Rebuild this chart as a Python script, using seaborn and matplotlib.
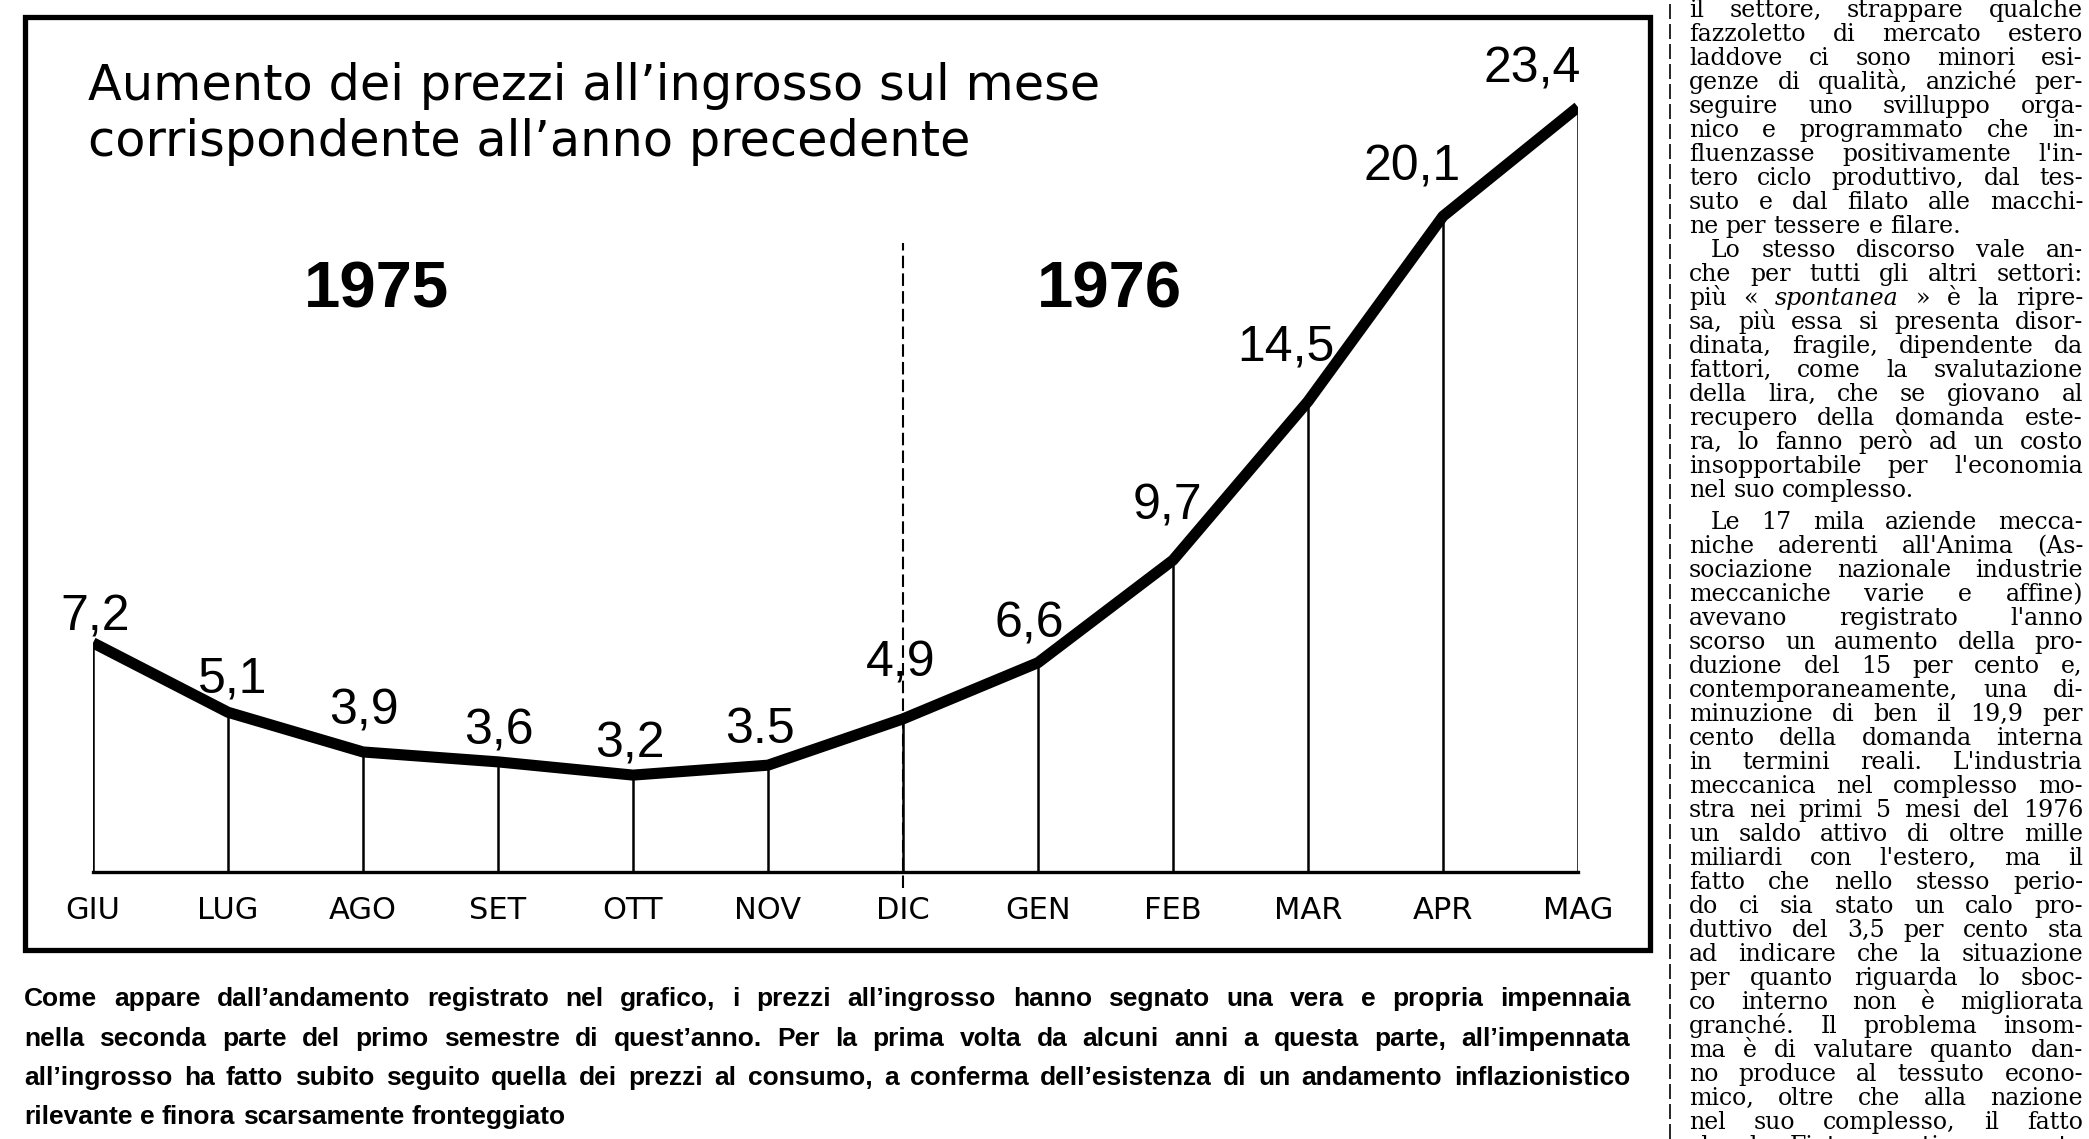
import matplotlib
matplotlib.use("Agg")
import matplotlib.pyplot as plt
import seaborn as sns
import pandas as pd
from matplotlib.patches import Rectangle
from matplotlib.lines import Line2D

# ---------------- data ----------------
months = ["GIU", "LUG", "AGO", "SET", "OTT", "NOV", "DIC", "GEN", "FEB", "MAR", "APR", "MAG"]
values = [7.2, 5.1, 3.9, 3.6, 3.2, 3.5, 4.9, 6.6, 9.7, 14.5, 20.1, 23.4]
value_labels = ["7,2", "5,1", "3,9", "3,6", "3,2", "3.5", "4,9", "6,6", "9,7", "14,5", "20,1", "23,4"]
years = ["1975", "1976"]
year_split = "DIC"

title_lines = ["Aumento dei prezzi all’ingrosso sul mese",
               "corrispondente all’anno precedente"]

caption_lines = [
    "Come appare dall’andamento registrato nel grafico, i prezzi all’ingrosso hanno segnato una vera e propria impennaia",
    "nella seconda parte del primo semestre di quest’anno. Per la prima volta da alcuni anni a questa parte, all’impennata",
    "all’ingrosso ha fatto subito seguito quella dei prezzi al consumo, a conferma dell’esistenza di un andamento inflazionistico",
    "rilevante e finora scarsamente fronteggiato",
]

column_lines = [
    "il settore, strappare qualche",
    "fazzoletto di mercato estero",
    "laddove ci sono minori esi-",
    "genze di qualità, anziché per-",
    "seguire uno svilluppo orga-",
    "nico e programmato che in-",
    "fluenzasse positivamente l'in-",
    "tero ciclo produttivo, dal tes-",
    "suto e dal filato alle macchi-",
    "ne per tessere e filare.",
    "Lo stesso discorso vale an-",
    "che per tutti gli altri settori:",
    "più « _spontanea_ » è la ripre-",
    "sa, più essa si presenta disor-",
    "dinata, fragile, dipendente da",
    "fattori, come la svalutazione",
    "della lira, che se giovano al",
    "recupero della domanda este-",
    "ra, lo fanno però ad un costo",
    "insopportabile per l'economia",
    "nel suo complesso.",
    "Le 17 mila aziende mecca-",
    "niche aderenti all'Anima (As-",
    "sociazione nazionale industrie",
    "meccaniche varie e affine)",
    "avevano registrato l'anno",
    "scorso un aumento della pro-",
    "duzione del 15 per cento e,",
    "contemporaneamente, una di-",
    "minuzione di ben il 19,9 per",
    "cento della domanda interna",
    "in termini reali. L'industria",
    "meccanica nel complesso mo-",
    "stra nei primi 5 mesi del 1976",
    "un saldo attivo di oltre mille",
    "miliardi con l'estero, ma il",
    "fatto che nello stesso perio-",
    "do ci sia stato un calo pro-",
    "duttivo del 3,5 per cento sta",
    "ad indicare che la situazione",
    "per quanto riguarda lo sboc-",
    "co interno non è migliorata",
    "granché. Il problema insom-",
    "ma è di valutare quanto dan-",
    "no produce al tessuto econo-",
    "mico, oltre che alla nazione",
    "nel suo complesso, il fatto",
    "che la Fiat esporti una certa",
]
paragraph_starts = [10, 21]
paragraph_ends = [9, 20]

# ---------------- figure ----------------
W, H, DPI = 2089, 1139, 100
sns.set_theme(style="white")
plt.rcParams["font.family"] = ["DejaVu Sans"]
plt.rcParams["text.color"] = "black"
NARROW = ["Liberation Sans Narrow", "Liberation Sans", "DejaVu Sans"]

fig = plt.figure(figsize=(W / DPI, H / DPI), dpi=DPI, facecolor="white")


def fx(px):
    return px / W


def fy(py):
    return 1 - py / H


# plot area (pixel geometry of the reference)
X0, X1 = 93, 1578
YB, YT = 872, 100
PPU = 33.07
YMIN = 0.27

ax = fig.add_axes([fx(X0), fy(YB), (X1 - X0) / W, (YB - YT) / H])
ax.set_facecolor("none")
ax.set_xlim(0, len(months) - 1)
ax.set_ylim(YMIN, YMIN + (YB - YT) / PPU)

df = pd.DataFrame({"idx": range(len(months)), "month": months, "value": values})

ax.vlines(df["idx"], YMIN, df["value"], colors="black", linewidth=1.8, zorder=2)
sns.lineplot(data=df, x="idx", y="value", color="black", linewidth=8.0, ax=ax,
             solid_joinstyle="round", solid_capstyle="butt", zorder=3)

# dashed year separator
dic = months.index(year_split)
ax.plot([dic, dic], [YMIN - 16 / PPU, YMIN + (YB - 243) / PPU], color="black",
        lw=1.5, ls=(0, (6, 2.5)), clip_on=False, zorder=1)

ax.set_xticks(df["idx"])
ax.set_xticklabels(months, fontsize=22, fontfamily="DejaVu Sans", color="black")
ax.tick_params(axis="x", length=0, pad=17)
ax.set_yticks([])
ax.set_xlabel("")
ax.set_ylabel("")
for s in ["left", "top", "right"]:
    ax.spines[s].set_visible(False)
ax.spines["bottom"].set_linewidth(2.4)
ax.spines["bottom"].set_color("black")

# value labels (offsets in pixels: centre x, baseline above the point)
offsets = [(2, 12), (5, 20), (1, 27), (1, 17), (-3, 18), (-8, 22),
           (-2, 42), (-9, 25), (-6, 41), (-22, 41), (-31, 36), (-46, 25)]
for i, (lbl, v) in enumerate(zip(value_labels, values)):
    dx, dy = offsets[i]
    ax.annotate(lbl, (i, v), xytext=(dx, dy), textcoords="offset pixels",
                ha="center", va="baseline", fontsize=36, family=NARROW,
                color="black", annotation_clip=False, zorder=4)

# year labels
for txt, cx in zip(years, [377, 1109]):
    fig.text(fx(cx), fy(308), txt, ha="center", va="baseline", fontsize=47,
             fontweight="bold", family=["Liberation Sans", "DejaVu Sans"], color="black")

# title
fig.text(fx(88), fy(100), title_lines[0], ha="left", va="baseline", fontsize=35.6,
         family="DejaVu Sans", color="black")
fig.text(fx(88), fy(156), title_lines[1], ha="left", va="baseline", fontsize=35.6,
         family="DejaVu Sans", color="black")

# frame of the chart
fig.add_artist(Rectangle((fx(25), fy(950)), (1650 - 25) / W, (950 - 17) / H,
                         transform=fig.transFigure, fill=False, edgecolor="black",
                         linewidth=3.8))

# column separator
fig.add_artist(Line2D([fx(1670), fx(1670)], [0, 1], transform=fig.transFigure,
                      color="black", lw=1.2, ls=(0, (9, 3))))

renderer = fig.canvas.get_renderer()


def space_width(**kw):
    a = fig.text(0, 0, "n n", **kw)
    b = fig.text(0, 0, "nn", **kw)
    w = a.get_window_extent(renderer).width - b.get_window_extent(renderer).width
    a.remove()
    b.remove()
    return w


def place_line(text, x0, x1, y, justify, min_gap_frac=0.6, **kw):
    tokens = []
    for tok in text.split():
        style = "normal"
        if tok.startswith("_") and tok.endswith("_"):
            tok = tok.strip("_")
            style = "italic"
        tokens.append((tok, style))
    size = kw.pop("fontsize")
    while True:
        arts = [fig.text(0, 0, t, ha="left", va="baseline", fontstyle=st,
                         fontsize=size, **kw) for t, st in tokens]
        widths = [a.get_window_extent(renderer).width for a in arts]
        sp = space_width(fontsize=size, **kw)
        natural = sum(widths) + sp * min_gap_frac * (len(arts) - 1)
        if natural <= (x1 - x0) or size < 8:
            break
        for a in arts:
            a.remove()
        size -= 0.25
    if justify and len(arts) > 1:
        gap = (x1 - x0 - sum(widths)) / (len(arts) - 1)
    else:
        gap = sp
    x = x0
    for a, w in zip(arts, widths):
        a.set_position((fx(x), fy(y)))
        x += w + gap


# caption (justified)
cap_kw = dict(fontsize=19, fontweight="bold", family=NARROW, color="black")
cap_base = [1006, 1046, 1085, 1124]
for i, line in enumerate(caption_lines):
    place_line(line, 24, 1630, cap_base[i], justify=(i < len(caption_lines) - 1), **cap_kw)

# newspaper column (justified)
col_kw = dict(fontsize=17, family=["DejaVu Serif", "Liberation Serif"], color="black")
y = 17
for i, line in enumerate(column_lines):
    if i == 21:
        y += 8
    x0 = 1689 + (22 if i in paragraph_starts else 0)
    place_line(line, x0, 2083, y, justify=(i not in paragraph_ends), **dict(col_kw))
    y += 24

fig.savefig("out.png", dpi=DPI, facecolor="white")
